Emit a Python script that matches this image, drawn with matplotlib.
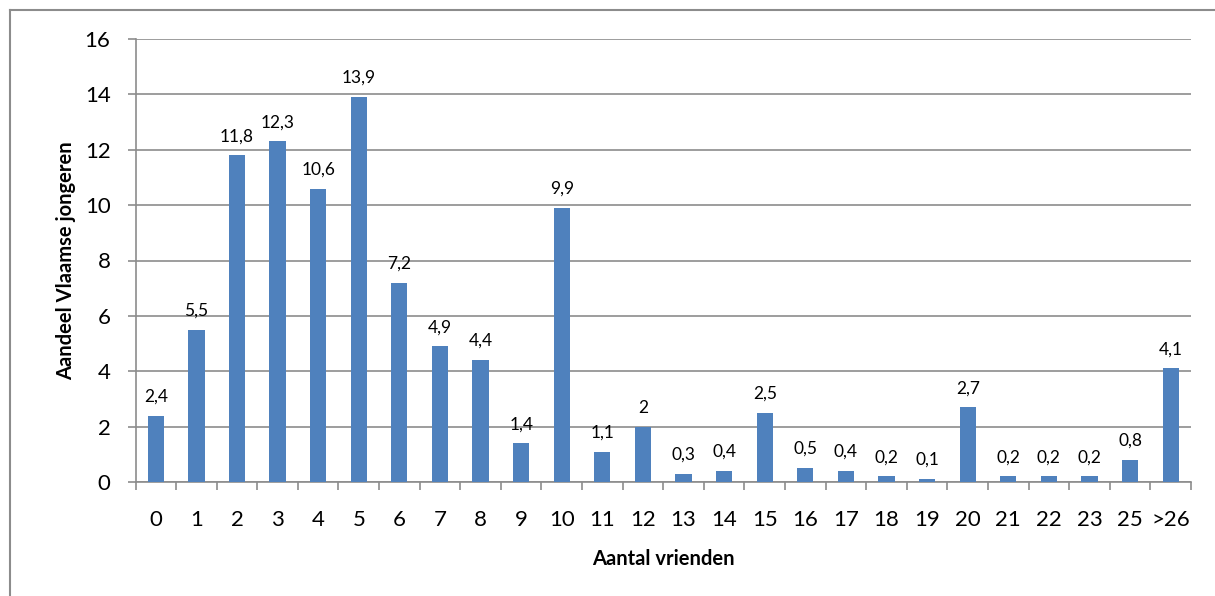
import matplotlib.pyplot as plt
from matplotlib.lines import Line2D

categories = ['0', '1', '2', '3', '4', '5', '6', '7', '8', '9', '10', '11', '12',
              '13', '14', '15', '16', '17', '18', '19', '20', '21', '22', '23', '25', '>26']
values = [2.4, 5.5, 11.8, 12.3, 10.6, 13.9, 7.2, 4.9, 4.4, 1.4, 9.9, 1.1, 2,
          0.3, 0.4, 2.5, 0.5, 0.4, 0.2, 0.1, 2.7, 0.2, 0.2, 0.2, 0.8, 4.1]

plt.rcParams['font.family'] = ['Lato', 'DejaVu Sans']

fig = plt.figure(figsize=(12.15, 5.96), dpi=100)
ax = fig.add_axes([135.5 / 1215, 1 - 482 / 596, (1191 - 135.5) / 1215, (482 - 39) / 596])

x = list(range(len(categories)))
ax.bar(x, values, width=0.4, color='#4F81BD', zorder=3)
for xi, v in zip(x, values):
    lab = ('%g' % v).replace('.', ',')
    ax.annotate(lab, (xi, v), xytext=(0, 8), textcoords='offset points',
                ha='center', va='bottom', fontsize=12.5, color='#000000')

ax.set_xlim(-0.5, len(categories) - 0.5)
ax.set_ylim(0, 16)
ax.set_yticks(range(0, 17, 2))
ax.yaxis.grid(True, color='#8C8C8C', linewidth=1.2, zorder=0)
ax.set_xticks(x)
ax.set_xticklabels(categories)
ax.set_xticks([i - 0.5 for i in range(len(categories) + 1)], minor=True)
ax.tick_params(axis='x', which='major', length=0, pad=20, labelsize=16)
ax.tick_params(axis='x', which='minor', length=6, width=1.2, color='#8C8C8C')
ax.tick_params(axis='y', length=6, width=1.2, color='#8C8C8C', pad=12, labelsize=16)

for s in ['top', 'right']:
    ax.spines[s].set_visible(False)
for s in ['left', 'bottom']:
    ax.spines[s].set_color('#8C8C8C')
    ax.spines[s].set_linewidth(1.2)

ax.set_xlabel('Aantal vrienden', fontsize=14.5, fontweight='bold', labelpad=14)
ax.set_ylabel('Aandeel Vlaamse jongeren', fontsize=14.5, fontweight='bold', labelpad=6)

# outer chart border (left and top visible)
fig.add_artist(Line2D([10.5 / 1215, 10.5 / 1215], [0, 1 - 10 / 596], color='#8C8C8C', linewidth=1.5))
fig.add_artist(Line2D([10.5 / 1215, 1], [1 - 10 / 596, 1 - 10 / 596], color='#8C8C8C', linewidth=1.5))

fig.savefig('out.png', dpi=100)
